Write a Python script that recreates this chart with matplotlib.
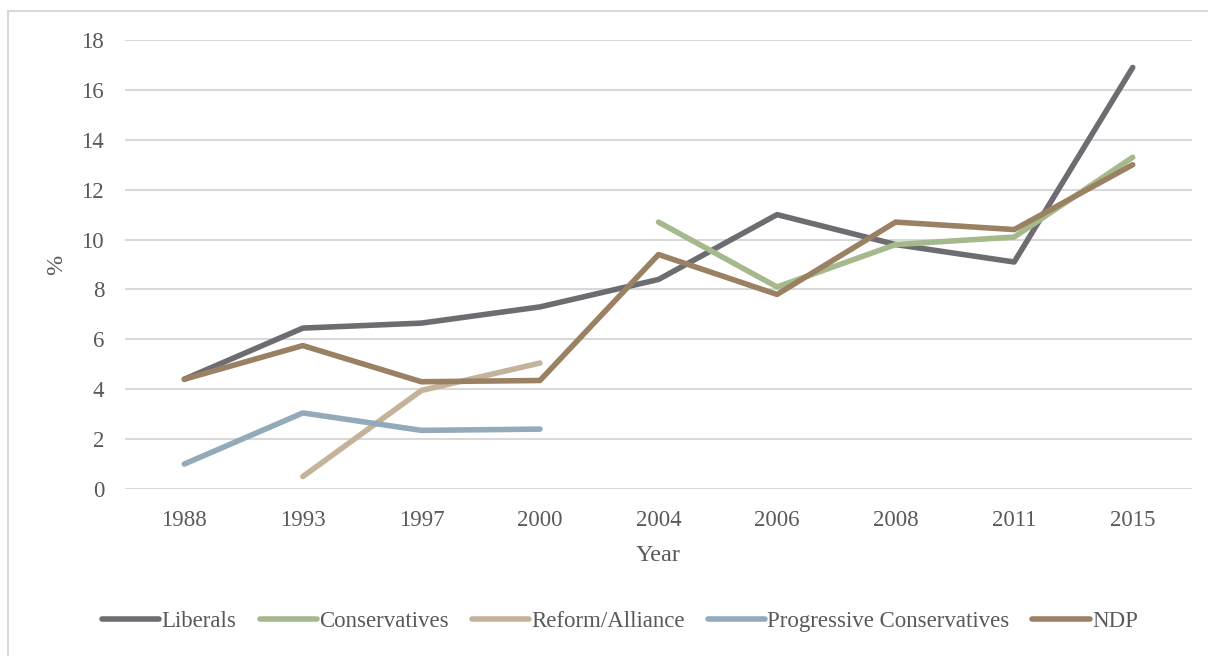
import numpy as np
import matplotlib.pyplot as plt
from matplotlib.patches import Rectangle

plt.rcParams['font.family'] = ['Liberation Serif', 'DejaVu Serif']

# === data ===
years = ['1988', '1993', '1997', '2000', '2004', '2006', '2008', '2011', '2015']
liberals = [4.4, 6.45, 6.65, 7.3, 8.4, 11.0, 9.8, 9.1, 16.9]
conservatives = [np.nan, np.nan, np.nan, np.nan, 10.7, 8.1, 9.8, 10.1, 13.3]
reform_alliance = [np.nan, 0.5, 3.95, 5.05, np.nan, np.nan, np.nan, np.nan, np.nan]
prog_conservatives = [1.0, 3.05, 2.35, 2.4, np.nan, np.nan, np.nan, np.nan, np.nan]
ndp = [4.4, 5.75, 4.3, 4.35, 9.4, 7.8, 10.7, 10.4, 13.0]

series = [
    ('Liberals', liberals, '#6d6c71'),
    ('Conservatives', conservatives, '#a6b98c'),
    ('Reform/Alliance', reform_alliance, '#c4b29b'),
    ('Progressive Conservatives', prog_conservatives, '#93aabb'),
    ('NDP', ndp, '#9b8163'),
]

# === figure ===
fig = plt.figure(figsize=(12.08, 6.56), dpi=100)
ax = fig.add_axes([125 / 1208, 1 - 489 / 656, 1067 / 1208, 449 / 656])

x = np.arange(len(years))
for name, vals, col in series:
    ax.plot(x, vals, color=col, linewidth=4, label=name, solid_capstyle='round',
            solid_joinstyle='round')

ax.set_xlim(-0.5, len(years) - 0.5)
ax.set_ylim(0, 18)
ax.set_yticks(np.arange(0, 19, 2))
ax.set_xticks(x)
ax.set_xticklabels(years)
ax.grid(axis='y', color='#d9d9d9', linewidth=1.5)
ax.set_axisbelow(True)
for s in ax.spines.values():
    s.set_visible(False)
ax.tick_params(length=0, labelsize=16.5, colors='#595959')
ax.tick_params(axis='x', pad=15)
ax.tick_params(axis='y', pad=15)

ax.set_xlabel('Year', fontsize=17.5, color='#595959', labelpad=10)
ax.set_ylabel('%', fontsize=17.5, color='#595959', labelpad=10)

leg = fig.legend(loc='center', bbox_to_anchor=(620 / 1208, 1 - 621 / 656), ncol=5,
                 frameon=False, fontsize=16.5, handlelength=2.5, handletextpad=0.1,
                 columnspacing=1.0)
for t in leg.get_texts():
    t.set_color('#595959')

# outer border
fig.patches.append(Rectangle((8 / 1208, -0.1), 1.2, 1 - 11 / 656 + 0.1,
                             transform=fig.transFigure, fill=False,
                             edgecolor='#d9d9d9', linewidth=1.5))

fig.savefig('out.png', dpi=100)
